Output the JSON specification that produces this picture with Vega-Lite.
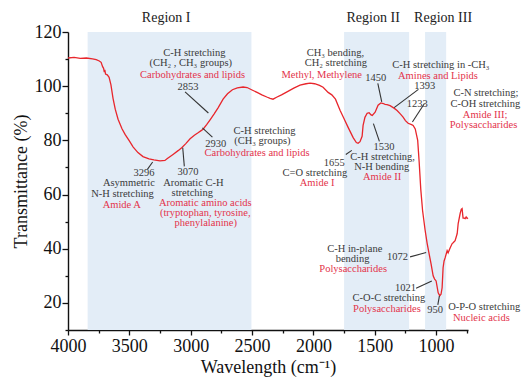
{
  "$schema": "https://vega.github.io/schema/vega-lite/v6.json",
  "width": 400,
  "height": 298,
  "autosize": {"type": "none"},
  "padding": {"left": 68, "top": 32, "right": 55, "bottom": 47},
  "background": "white",
  "config": {
    "view": {"stroke": null},
    "font": "Liberation Serif",
    "axis": {
      "domainColor": "#111", "domainWidth": 1.4, "tickColor": "#111", "tickWidth": 1.3,
      "labelFont": "Liberation Serif", "labelFontSize": 18, "labelColor": "#111",
      "titleFont": "Liberation Serif", "titleFontSize": 18, "titleFontWeight": "normal", "titleColor": "#111",
      "grid": false
    }
  },
  "resolve": {"axis": {"x": "independent", "y": "independent"}},
  "datasets": {
    "spectrum": [
      {"wn": 4000, "t": 110.4}, {"wn": 3950, "t": 110.6}, {"wn": 3900, "t": 110.3}, {"wn": 3850, "t": 110.4},
      {"wn": 3800, "t": 110.1}, {"wn": 3770, "t": 109.8}, {"wn": 3745, "t": 109.3}, {"wn": 3730, "t": 108.8},
      {"wn": 3718, "t": 107.2}, {"wn": 3710, "t": 106.6}, {"wn": 3704, "t": 105.2}, {"wn": 3700, "t": 106.0},
      {"wn": 3694, "t": 104.5}, {"wn": 3680, "t": 104.2}, {"wn": 3665, "t": 103.3}, {"wn": 3650, "t": 100.5},
      {"wn": 3633, "t": 95.5}, {"wn": 3615, "t": 91.5}, {"wn": 3592, "t": 87.8}, {"wn": 3560, "t": 84.3},
      {"wn": 3535, "t": 82.2}, {"wn": 3500, "t": 79.8}, {"wn": 3470, "t": 77.6}, {"wn": 3430, "t": 75.5},
      {"wn": 3389, "t": 74.0}, {"wn": 3340, "t": 73.2}, {"wn": 3300, "t": 72.8}, {"wn": 3250, "t": 72.4},
      {"wn": 3210, "t": 72.6}, {"wn": 3193, "t": 73.2}, {"wn": 3144, "t": 74.8}, {"wn": 3100, "t": 76.3},
      {"wn": 3071, "t": 77.4}, {"wn": 3040, "t": 78.8}, {"wn": 3005, "t": 80.6}, {"wn": 2970, "t": 81.9},
      {"wn": 2940, "t": 82.8}, {"wn": 2915, "t": 83.6}, {"wn": 2899, "t": 84.1}, {"wn": 2870, "t": 85.8},
      {"wn": 2842, "t": 87.6}, {"wn": 2810, "t": 89.7}, {"wn": 2777, "t": 92.0}, {"wn": 2736, "t": 95.2},
      {"wn": 2700, "t": 97.2}, {"wn": 2660, "t": 98.7}, {"wn": 2620, "t": 99.4}, {"wn": 2573, "t": 99.7},
      {"wn": 2540, "t": 99.5}, {"wn": 2500, "t": 98.6}, {"wn": 2459, "t": 97.7}, {"wn": 2420, "t": 96.8},
      {"wn": 2380, "t": 96.0}, {"wn": 2353, "t": 95.5}, {"wn": 2329, "t": 95.2}, {"wn": 2300, "t": 95.9},
      {"wn": 2260, "t": 96.8}, {"wn": 2215, "t": 97.9}, {"wn": 2160, "t": 99.3}, {"wn": 2109, "t": 100.4},
      {"wn": 2060, "t": 100.9}, {"wn": 2027, "t": 101.1}, {"wn": 1990, "t": 100.9}, {"wn": 1950, "t": 100.3},
      {"wn": 1921, "t": 99.6}, {"wn": 1880, "t": 97.7}, {"wn": 1850, "t": 96.8}, {"wn": 1820, "t": 95.2},
      {"wn": 1782, "t": 91.0}, {"wn": 1750, "t": 88.0}, {"wn": 1717, "t": 84.8}, {"wn": 1676, "t": 81.0},
      {"wn": 1650, "t": 79.2}, {"wn": 1636, "t": 78.9}, {"wn": 1620, "t": 79.5}, {"wn": 1603, "t": 81.5},
      {"wn": 1595, "t": 85.5}, {"wn": 1580, "t": 88.5}, {"wn": 1562, "t": 90.0}, {"wn": 1546, "t": 90.2},
      {"wn": 1530, "t": 89.4}, {"wn": 1520, "t": 89.2}, {"wn": 1497, "t": 90.4}, {"wn": 1473, "t": 93.0},
      {"wn": 1450, "t": 93.8}, {"wn": 1430, "t": 93.6}, {"wn": 1416, "t": 93.3}, {"wn": 1400, "t": 93.2},
      {"wn": 1375, "t": 92.8}, {"wn": 1340, "t": 91.8}, {"wn": 1318, "t": 91.0}, {"wn": 1290, "t": 89.7},
      {"wn": 1269, "t": 88.6}, {"wn": 1250, "t": 87.3}, {"wn": 1228, "t": 86.3}, {"wn": 1200, "t": 85.8},
      {"wn": 1187, "t": 85.5}, {"wn": 1170, "t": 84.2}, {"wn": 1150, "t": 80.0}, {"wn": 1138, "t": 72.0},
      {"wn": 1125, "t": 62.0}, {"wn": 1110, "t": 54.0}, {"wn": 1090, "t": 47.0}, {"wn": 1073, "t": 42.0},
      {"wn": 1065, "t": 40.0}, {"wn": 1041, "t": 34.4}, {"wn": 1024, "t": 30.0}, {"wn": 1012, "t": 28.8},
      {"wn": 1000, "t": 28.1}, {"wn": 983, "t": 23.7}, {"wn": 970, "t": 22.6}, {"wn": 960, "t": 23.2},
      {"wn": 951, "t": 25.6}, {"wn": 943, "t": 33.0}, {"wn": 935, "t": 35.5}, {"wn": 926, "t": 36.7},
      {"wn": 910, "t": 39.3}, {"wn": 902, "t": 38.5}, {"wn": 885, "t": 40.4}, {"wn": 869, "t": 41.9},
      {"wn": 861, "t": 42.2}, {"wn": 845, "t": 43.0}, {"wn": 828, "t": 45.6}, {"wn": 820, "t": 49.3},
      {"wn": 804, "t": 53.0}, {"wn": 795, "t": 54.5}, {"wn": 788, "t": 54.8}, {"wn": 783, "t": 52.5},
      {"wn": 780, "t": 51.3}, {"wn": 770, "t": 51.3}, {"wn": 763, "t": 51.1}, {"wn": 755, "t": 51.7},
      {"wn": 747, "t": 51.2}, {"wn": 740, "t": 51.4}
    ],
    "regions": [
      {"region": "Region I", "start": 3840, "end": 2505},
      {"region": "Region II", "start": 1750, "end": 1220},
      {"region": "Region III", "start": 1090, "end": 918}
    ],
    "regionLabels": [
      {"text": "Region I", "wn": 3200, "t": 125.2},
      {"text": "Region II", "wn": 1513, "t": 125.2},
      {"text": "Region III", "wn": 943, "t": 125.2}
    ],
    "leaders": [
      {"peak": "2853", "x1": 3046, "y1": 97.9, "x2": 2856, "y2": 90.1},
      {"peak": "2930", "x1": 2905, "y1": 84.6, "x2": 2823, "y2": 81.2},
      {"peak": "3296", "x1": 3353, "y1": 69.3, "x2": 3310, "y2": 72.0},
      {"peak": "3070", "x1": 3052, "y1": 70.4, "x2": 3065, "y2": 77.3},
      {"peak": "1450", "x1": 1475, "y1": 101.0, "x2": 1443, "y2": 94.2},
      {"peak": "1393", "x1": 1144, "y1": 98.8, "x2": 1342, "y2": 92.1},
      {"peak": "1233", "x1": 1095, "y1": 93.6, "x2": 1193, "y2": 86.8},
      {"peak": "1655", "x1": 1736, "y1": 74.8, "x2": 1687, "y2": 76.3},
      {"peak": "1530", "x1": 1462, "y1": 79.6, "x2": 1511, "y2": 86.2},
      {"peak": "1072", "x1": 1212, "y1": 37.0, "x2": 1081, "y2": 38.6},
      {"peak": "1021", "x1": 1163, "y1": 25.4, "x2": 1035, "y2": 28.1},
      {"peak": "950", "x1": 986, "y1": 19.3, "x2": 973, "y2": 22.6}
    ],
    "labels": [
      {"text": "C-H stretching", "wn": 2970, "t": 112.1, "role": "vibration"},
      {"text": "(CH₂ , CH₃  groups)", "wn": 3000, "t": 108.4, "role": "vibration"},
      {"text": "Carbohydrates and lipids", "wn": 2985, "t": 104.0, "role": "assignment"},
      {"text": "2853", "wn": 3022, "t": 99.8, "role": "vibration"},
      {"text": "2930", "wn": 2795, "t": 78.8, "role": "vibration"},
      {"text": "C-H stretching", "wn": 2398, "t": 83.3, "role": "vibration"},
      {"text": "(CH₃  groups)", "wn": 2416, "t": 79.6, "role": "vibration"},
      {"text": "Carbohydrates and lipids", "wn": 2459, "t": 75.3, "role": "assignment"},
      {"text": "3296", "wn": 3380, "t": 67.9, "role": "vibration"},
      {"text": "Asymmetric", "wn": 3504, "t": 64.4, "role": "vibration"},
      {"text": "N-H stretching", "wn": 3556, "t": 60.2, "role": "vibration"},
      {"text": "Amide A", "wn": 3562, "t": 56.3, "role": "assignment"},
      {"text": "3070", "wn": 3022, "t": 68.3, "role": "vibration"},
      {"text": "Aromatic C-H", "wn": 2978, "t": 64.4, "role": "vibration"},
      {"text": "stretching", "wn": 2987, "t": 60.6, "role": "vibration"},
      {"text": "Aromatic amino acids", "wn": 2881, "t": 56.8, "role": "assignment"},
      {"text": "(tryptophan, tyrosine,", "wn": 2881, "t": 53.2, "role": "assignment"},
      {"text": "phenylalanine)", "wn": 2877, "t": 49.4, "role": "assignment"},
      {"text": "CH₃  bending,", "wn": 1821, "t": 112.4, "role": "vibration"},
      {"text": "CH₂  stretching", "wn": 1817, "t": 108.4, "role": "vibration"},
      {"text": "Methyl, Methylene", "wn": 1932, "t": 104.1, "role": "assignment"},
      {"text": "1450", "wn": 1491, "t": 103.2, "role": "vibration"},
      {"text": "C-H stretching in -CH₃", "wn": 961, "t": 107.8, "role": "vibration"},
      {"text": "Amines and Lipids", "wn": 985, "t": 103.7, "role": "assignment"},
      {"text": "1393", "wn": 1092, "t": 100.0, "role": "vibration"},
      {"text": "C-N stretching;", "wn": 594, "t": 97.3, "role": "vibration"},
      {"text": "1233", "wn": 1153, "t": 93.6, "role": "vibration"},
      {"text": "C-OH stretching", "wn": 598, "t": 93.5, "role": "vibration"},
      {"text": "Amide III;", "wn": 600, "t": 89.4, "role": "assignment"},
      {"text": "Polysaccharides", "wn": 614, "t": 85.5, "role": "assignment"},
      {"text": "1655", "wn": 1830, "t": 71.7, "role": "vibration"},
      {"text": "C=O stretching", "wn": 1988, "t": 67.9, "role": "vibration"},
      {"text": "Amide I", "wn": 1970, "t": 64.3, "role": "assignment"},
      {"text": "1530", "wn": 1425, "t": 77.6, "role": "vibration"},
      {"text": "C-H stretching,", "wn": 1436, "t": 73.8, "role": "vibration"},
      {"text": "N-H bending", "wn": 1443, "t": 70.2, "role": "vibration"},
      {"text": "Amide II", "wn": 1440, "t": 66.3, "role": "assignment"},
      {"text": "C-H in-plane", "wn": 1663, "t": 39.9, "role": "vibration"},
      {"text": "bending", "wn": 1681, "t": 36.2, "role": "vibration"},
      {"text": "Polysaccharides", "wn": 1676, "t": 32.5, "role": "assignment"},
      {"text": "1072", "wn": 1315, "t": 36.8, "role": "vibration"},
      {"text": "1021", "wn": 1250, "t": 25.4, "role": "vibration"},
      {"text": "C-O-C stretching", "wn": 1385, "t": 21.7, "role": "vibration"},
      {"text": "Polysaccharides", "wn": 1401, "t": 17.9, "role": "assignment"},
      {"text": "950", "wn": 1008, "t": 17.3, "role": "vibration"},
      {"text": "O-P-O stretching", "wn": 608, "t": 18.5, "role": "vibration"},
      {"text": "Nucleic acids", "wn": 631, "t": 14.6, "role": "assignment"}
    ]
  },
  "layer": [
    {
      "data": {"name": "regions"},
      "mark": {"type": "rect", "color": "#e3edf7"},
      "encoding": {
        "x": {"field": "start", "type": "quantitative", "scale": {"domain": [740, 4000], "reverse": true, "nice": false, "zero": false},
          "axis": {"orient": "bottom", "values": [3750, 3250, 2750, 2250, 1750, 1250, 750],
            "tickSize": 3, "labels": false, "domain": false, "title": null}},
        "x2": {"field": "end"}
      }
    },
    {
      "data": {"name": "spectrum"},
      "mark": {"type": "line", "color": "#e8262c", "strokeWidth": 1.3},
      "encoding": {
        "x": {"field": "wn", "type": "quantitative",
          "axis": {"orient": "bottom", "values": [4000, 3500, 3000, 2500, 2000, 1500, 1000], "format": "d",
            "tickSize": 5, "labelPadding": 2, "labelFlush": false, "labelOverlap": false,
            "title": "Wavelength (cm⁻¹)", "titlePadding": 3}},
        "y": {"field": "t", "type": "quantitative", "scale": {"domain": [10, 120], "nice": false, "zero": false},
          "axis": {"orient": "left", "values": [20, 40, 60, 80, 100, 120], "format": "d",
            "tickSize": 6, "labelPadding": 1, "labelFlush": false, "labelOverlap": false,
            "title": "Transmittance (%)", "titlePadding": 4}}
      }
    },
    {
      "data": {"name": "leaders"},
      "mark": {"type": "rule", "color": "#333", "strokeWidth": 1.1},
      "encoding": {
        "x": {"field": "x1", "type": "quantitative", "axis": null},
        "x2": {"field": "x2"},
        "y": {"field": "y1", "type": "quantitative",
          "axis": {"orient": "left", "values": [10, 30, 50, 70, 90, 110], "tickSize": 3, "labels": false, "domain": false, "title": null}},
        "y2": {"field": "y2"}
      }
    },
    {
      "data": {"name": "labels"},
      "mark": {"type": "text", "font": "Liberation Serif", "fontSize": 10.5, "align": "center", "baseline": "middle"},
      "encoding": {
        "x": {"field": "wn", "type": "quantitative", "axis": null},
        "y": {"field": "t", "type": "quantitative", "axis": null},
        "text": {"field": "text"},
        "color": {"field": "role", "type": "nominal", "scale": {"domain": ["vibration", "assignment"], "range": ["#3a3a3a", "#e3334b"]}, "legend": null}
      }
    },
    {
      "data": {"name": "regionLabels"},
      "mark": {"type": "text", "font": "Liberation Serif", "fontSize": 14, "align": "center", "baseline": "middle", "color": "#222"},
      "encoding": {
        "x": {"field": "wn", "type": "quantitative", "axis": null},
        "y": {"field": "t", "type": "quantitative", "axis": null},
        "text": {"field": "text"}
      }
    }
  ]
}
